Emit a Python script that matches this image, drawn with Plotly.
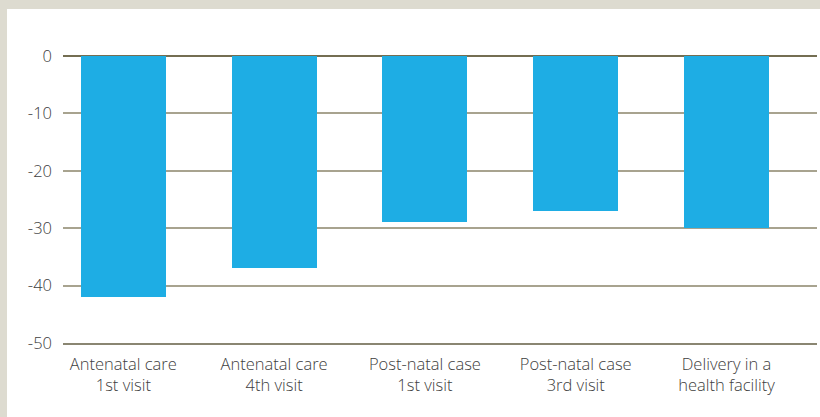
import plotly.graph_objects as go

categories = ["Antenatal care<br>1st visit", "Antenatal care<br>4th visit",
              "Post-natal case<br>1st visit", "Post-natal case<br>3rd visit",
              "Delivery in a<br>health facility"]
values = [-42, -37, -29, -27, -30]
y_ticks = [0, -10, -20, -30, -40, -50]

W, H = 820, 417
L, R, T, B = 63, 3, 56, 74
pw, ph = W - L - R, H - T - B
BEIGE = "#DDDBD0"

fig = go.Figure(go.Bar(
    x=list(range(len(categories))), y=values,
    marker=dict(color="#1EADE4", line=dict(width=0)),
    width=0.564,
))

fig.update_layout(
    width=W, height=H,
    autosize=False,
    margin=dict(l=L, r=R, t=T, b=B, pad=0),
    paper_bgcolor="white",
    plot_bgcolor="rgba(0,0,0,0)",
    showlegend=False,
    font=dict(family="Open Sans, Lato, sans-serif", size=16.5, color="#404040", weight=350),
    bargap=0,
    shapes=[
        dict(type="rect", xref="paper", yref="paper",
             x0=-L / pw, x1=(7 - L) / pw, y0=-B / ph, y1=1 + T / ph,
             fillcolor=BEIGE, line=dict(width=0), layer="below"),
        dict(type="rect", xref="paper", yref="paper",
             x0=-L / pw, x1=1 + R / pw, y0=1 + (T - 9) / ph, y1=1 + T / ph,
             fillcolor=BEIGE, line=dict(width=0), layer="below"),
    ],
    xaxis=dict(
        range=[-0.4, 4.6],
        tickmode="array", tickvals=list(range(len(categories))), ticktext=categories,
        showgrid=False, zeroline=False,
        showline=True, linecolor="#8A8672", linewidth=2,
        ticks="", ticklabelstandoff=5,
    ),
    yaxis=dict(
        range=[-50, 0],
        tickmode="array", tickvals=y_ticks, ticktext=[str(v) for v in y_ticks],
        showgrid=True, gridcolor="#A8A38F", gridwidth=2,
        zeroline=True, zerolinecolor="#746E52", zerolinewidth=2,
        showline=False, ticks="", ticklabelstandoff=10,
    ),
)

fig.write_html("out.html", config={"displayModeBar": False, "responsive": False},
               post_script=("document.documentElement.style.margin='0';"
                            "document.documentElement.style.overflow='hidden';"
                            "document.documentElement.style.background='white';"
                            "document.body.style.margin='0';"
                            "document.body.style.overflow='hidden';"
                            "document.body.style.background='white';"))
